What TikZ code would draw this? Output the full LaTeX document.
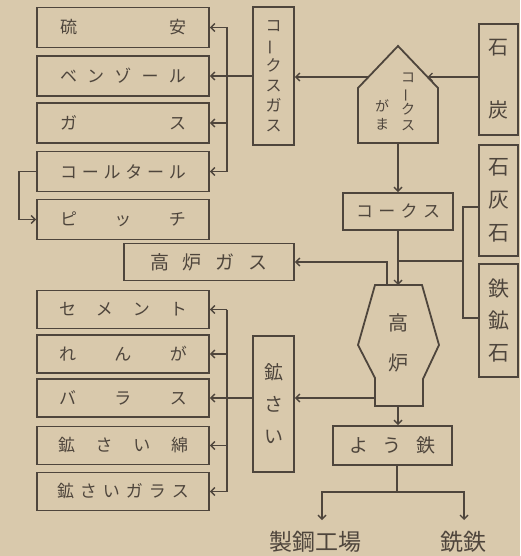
\documentclass[tikz,border=0pt]{standalone}
\usepackage{fontspec}
\newfontfamily\jp{Noto Sans CJK JP}
\usetikzlibrary{arrows.meta}
\definecolor{paper}{HTML}{D9C9AC}
\definecolor{ink}{HTML}{4E453C}
\newcommand\spr[2]{\makebox[#1pt][s]{#2}}
\newcommand\vbar{\rotatebox[origin=c]{90}{ー}}
\begin{document}
\begin{tikzpicture}[x=1pt,y=-1pt,
 box/.style={draw=ink, line width=1.8pt, inner sep=0pt, text=ink, font=\jp\fontsize{17}{20}\selectfont},
 lbox/.style={box, minimum width=172pt, minimum height=40pt},
 conn/.style={draw=ink, line width=1.4pt},
 arr/.style={conn, -{Straight Barb[length=4pt,width=8pt]}},
 shp/.style={draw=ink, line width=1.8pt, line join=miter},
 vt/.style={text=ink, inner sep=0pt, align=center},
 lab/.style={text=ink, font=\jp\fontsize{23}{24}\selectfont, inner sep=0pt}]
\fill[paper] (0,0) rectangle (520,556);
\useasboundingbox (0,0) rectangle (520,556);

% top left group
\node[lbox] (b1) at (123,27.5) {\spr{126}{硫\hfill 安}};
\node[lbox] (b2) at (123,76) {\spr{126}{ベ\hfill ン\hfill ゾ\hfill ー\hfill ル}};
\node[lbox] (b3) at (123,123) {\spr{126}{ガ\hfill ス}};
\node[lbox] (b4) at (123,171.5) {\spr{126}{コ\hfill ー\hfill ル\hfill タ\hfill ー\hfill ル}};
\node[lbox] (b5) at (123,219.5) {\spr{126}{ピ\hfill ッ\hfill チ}};

% coke gas box
\node[box, minimum width=41pt, minimum height=138pt, align=center, font=\jp\fontsize{16}{20}\selectfont] (cg) at (273.5,76) {コ\\\vbar\\ク\\ス\\ガ\\ス};

% coke oven
\draw[shp] (398,46) -- (438,88) -- (438,143) -- (358,143) -- (358,88) -- cycle;
\coordinate (ovenL) at (368.5,77);
\coordinate (ovenR) at (427.5,77);
\coordinate (ovenB) at (398,143);
\node[vt, font=\jp\fontsize{14}{16}\selectfont] (ovt1) at (408,102) {コ\\\vbar\\ク\\ス};
\node[vt, font=\jp\fontsize{14}{18}\selectfont] (ovt2) at (382,115) {が\\ま};

% raw materials
\node[box, minimum width=39pt, minimum height=111pt, align=center, font=\jp\fontsize{20}{63}\selectfont] (coal) at (498.5,79.5) {石\\炭};
\node[box, minimum width=39pt, minimum height=111pt, align=center, font=\jp\fontsize{21}{33}\selectfont] (ls) at (498.5,200.5) {石\\灰\\石};
\node[box, minimum width=39pt, minimum height=113pt, align=center, font=\jp\fontsize{21}{32}\selectfont] (ore) at (498.5,320.5) {鉄\\鉱\\石};

% coke
\node[box, minimum width=110pt, minimum height=37pt] (coke) at (398,211.5) {\spr{84}{コ\hfill ー\hfill ク\hfill ス}};

% blast furnace gas
\node[box, minimum width=170pt, minimum height=37pt, font=\jp\fontsize{19}{20}\selectfont] (bfg) at (209,262) {\spr{118}{高\hfill 炉\hfill ガ\hfill ス}};

% blast furnace
\draw[shp] (375,285) -- (422,285) -- (439,345) -- (423,379) -- (423,406) -- (375,406) -- (375,378) -- (358,345) -- cycle;
\coordinate (furT) at (398,285);
\coordinate (furG) at (387,285);
\coordinate (furS) at (375,398);
\coordinate (furB) at (398,406);
\node[vt, font=\jp\fontsize{20}{40}\selectfont] (furt) at (398,343) {高\\炉};

% slag
\node[box, minimum width=41pt, minimum height=136pt, align=center, font=\jp\fontsize{19}{32}\selectfont] (slag) at (273.5,404) {鉱\\さ\\い};

% bottom left group
\node[lbox, minimum height=38pt] (c1) at (123,309.5) {\spr{128}{セ\hfill メ\hfill ン\hfill ト}};
\node[lbox, minimum height=38pt] (c2) at (123,354) {\spr{128}{れ\hfill ん\hfill が}};
\node[lbox, minimum height=38pt] (c3) at (123,398) {\spr{128}{バ\hfill ラ\hfill ス}};
\node[lbox, minimum height=38pt] (c4) at (123,445.5) {\spr{130}{鉱\hfill さ\hfill い\hfill 綿}};
\node[lbox, minimum height=38pt] (c5) at (123,491.5) {\spr{132}{鉱\hfill さ\hfill い\hfill ガ\hfill ラ\hfill ス}};

% pig iron
\node[box, minimum width=119pt, minimum height=39pt, font=\jp\fontsize{19}{20}\selectfont] (pig) at (392.5,445.5) {\spr{87}{よ\hfill う\hfill 鉄}};

% outputs
\node[lab] (steel) at (315,542) {製鋼工場};
\node[lab] (cast) at (463,542) {銑鉄};

% ---- connectors ----
\coordinate (bx) at (227,0);
\draw[arr] (ovenL) -- (cg.east |- ovenL);
\draw[arr] (coal.west |- ovenR) -- (ovenR);
\draw[conn] (cg.west) -- (cg.west -| bx);
\draw[conn] (b1.east -| bx) -- (b4.east -| bx);
\foreach \n in {b1,b2,b3,b4} \draw[arr] (\n.east -| bx) -- (\n.east);
\draw[arr] (b4.west) -- ++(-17,0) |- (b5.west);

\draw[arr] (ovenB) -- (coke.north);
\coordinate (mb) at (463,0);
\draw[conn] (ls.west |- 0,207) -| (mb |- 0,261) |- (ore.west |- 0,318);
\draw[conn] (mb |- 0,261) -- (398,261);
\draw[arr] (coke.south) -- (furT);
\draw[arr] (furG) |- (bfg.east);

\draw[arr] (furS) -- (slag.east |- furS);
\draw[conn] (slag.west |- furS) -- (bx |- furS);
\draw[conn] (c1.east -| bx) -- (c5.east -| bx);
\foreach \n in {c1,c2,c3,c4,c5} \draw[arr] (\n.east -| bx) -- (\n.east);

\draw[arr] (furB) -- (pig.north -| furB);
\coordinate (split) at (397,492);
\draw[conn] (pig.south -| split) -- (split);
\draw[arr] (split) -| (322,520);
\draw[arr] (split) -| (464,520);
\end{tikzpicture}
\end{document}
